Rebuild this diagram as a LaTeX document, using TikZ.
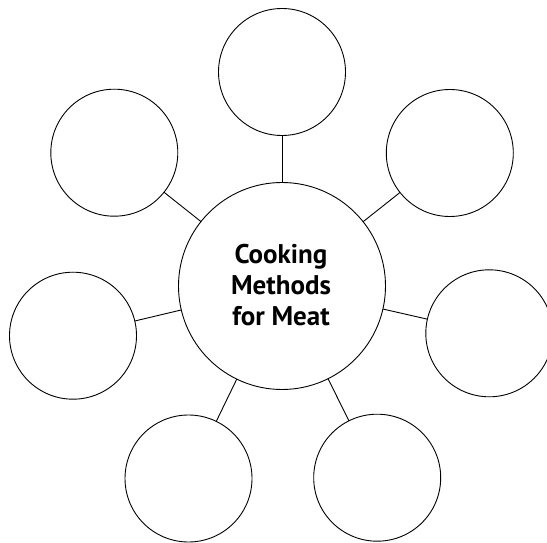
\documentclass[tikz,border=0pt]{standalone}
\usepackage{fontspec}
\setmainfont{PT Sans}
\begin{document}
\begin{tikzpicture}[x=1pt,y=1pt,
  bubble/.style={draw, circle, line width=0.9pt, inner sep=0pt, outer sep=0pt, minimum size=127pt},
  hub/.style={draw, circle, line width=0.9pt, inner sep=0pt, outer sep=0pt, minimum size=207pt},
  link/.style={line width=0.9pt},
  title/.style={align=center, font=\bfseries\fontsize{27}{30.7}\selectfont}]
\useasboundingbox (0,0) rectangle (547,542);
\node[hub] (C) at (282,256) {};
\node[title] (label) at (281,257) {Cooking\\Methods\\for Meat};
\node[bubble] (T)  at (282,470) {};
\node[bubble] (UL) at (114.3,389.3) {};
\node[bubble] (UR) at (449.8,389) {};
\node[bubble] (L)  at (73,206.3) {};
\node[bubble] (R)  at (489.3,208.7) {};
\node[bubble] (BL) at (188.5,63.5) {};
\node[bubble] (BR) at (377.2,64.3) {};
\foreach \n in {T,UL,UR,L,R,BL,BR} \draw[link] (C) -- (\n);
\end{tikzpicture}
\end{document}
